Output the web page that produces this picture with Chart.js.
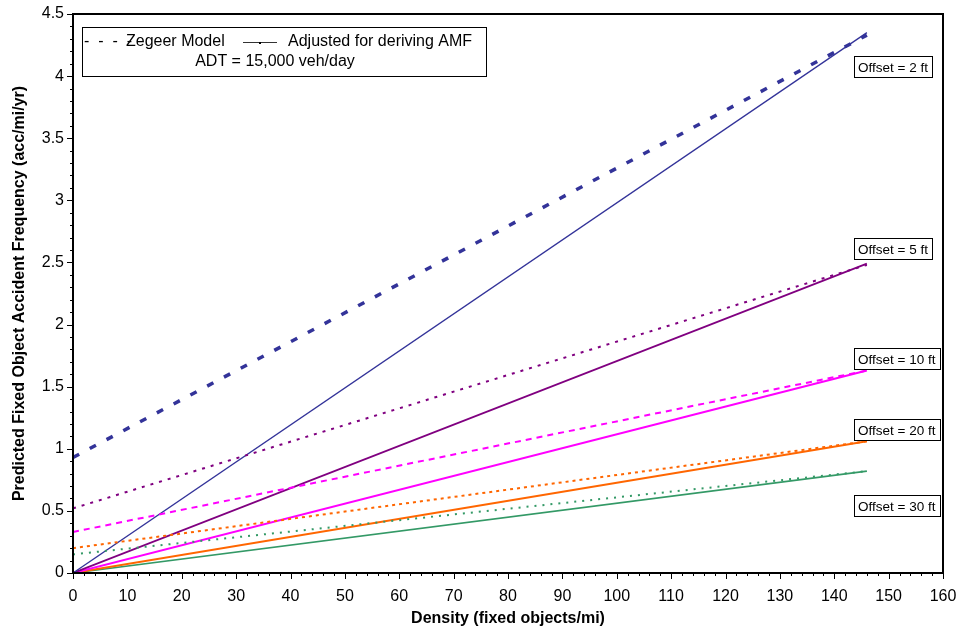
<!DOCTYPE html>
<html>
<head>
<meta charset="utf-8">
<script src="https://cdn.jsdelivr.net/npm/chart.js@4"></script>
<style>
  html, body { margin: 0; padding: 0; background: #fff; }
  #wrap { width: 961px; height: 633px; }
</style>
</head>
<body>
<div id="wrap"><canvas id="chart" width="961" height="633"></canvas></div>
<script>
// Data (density in fixed objects/mi)
const densityRange = [0, 146];
const offsetLabels = ['Offset = 2 ft', 'Offset = 5 ft', 'Offset = 10 ft', 'Offset = 20 ft', 'Offset = 30 ft'];
const zegeerStart = [0.93, 0.52, 0.33, 0.20, 0.15];
const zegeerEnd = [4.33, 2.48, 1.63, 1.06, 0.82];
const adjustedStart = [0, 0, 0, 0, 0];
const adjustedEnd = [4.35, 2.49, 1.63, 1.06, 0.82];
const xTickRange = [0, 160, 10];
const yTickRange = [0, 4.5, 0.5];

// Styles
const seriesColors = ['#333399', '#800080', '#FF00FF', '#FF6600', '#339966'];
const dashPatterns = [[7, 12], [3, 6], [6, 5], [3, 4], [2, 6]];
const dashWidths = [3.5, 2, 2, 2, 2];
const solidWidths = [1.3, 1.8, 2, 2, 1.6];
// y value (data units) where each offset label box is centered
const labelAnchorY = [4.07, 2.61, 1.72, 1.15, 0.54];
const labelAnchorX = 143.6;

const FONT = 'Arial, "Liberation Sans", sans-serif';

function buildDatasets() {
    const sets = [];
    offsetLabels.forEach((name, i) => {
        sets.push({
            label: name + ' (Zegeer)',
            data: [{ x: densityRange[0], y: zegeerStart[i] }, { x: densityRange[1], y: zegeerEnd[i] }],
            borderColor: seriesColors[i],
            borderWidth: dashWidths[i],
            borderDash: dashPatterns[i],
            pointRadius: 0,
            fill: false
        });
    });
    offsetLabels.forEach((name, i) => {
        sets.push({
            label: name + ' (Adjusted)',
            data: [{ x: densityRange[0], y: adjustedStart[i] }, { x: densityRange[1], y: adjustedEnd[i] }],
            borderColor: seriesColors[i],
            borderWidth: solidWidths[i],
            pointRadius: 0,
            fill: false
        });
    });
    return sets;
}

// Draws the box frame, minor/major ticks, axis titles, legend and labels
const decorPlugin = {
    id: 'decor',
    afterDraw(chart) {
        const ctx = chart.ctx;
        const a = chart.chartArea;
        const xs = chart.scales.x;
        const ys = chart.scales.y;
        ctx.save();

        // frame
        ctx.strokeStyle = '#000';
        ctx.lineWidth = 2;
        ctx.strokeRect(a.left, a.top, a.right - a.left, a.bottom - a.top);

        // x ticks: every 2, major every 10
        ctx.lineWidth = 1;
        for (let i = 0; i <= 80; i++) {
            const px = Math.round(xs.getPixelForValue(i * 2)) + 0.5;
            const len = i % 5 === 0 ? 6 : 3;
            ctx.beginPath();
            ctx.moveTo(px, a.bottom);
            ctx.lineTo(px, a.bottom + len);
            ctx.stroke();
        }
        // y ticks: every 0.1, major every 0.5
        for (let i = 0; i <= 45; i++) {
            const py = Math.round(ys.getPixelForValue(i / 10)) + 0.5;
            const len = i % 5 === 0 ? 6 : 3;
            ctx.beginPath();
            ctx.moveTo(a.left, py);
            ctx.lineTo(a.left - len, py);
            ctx.stroke();
        }

        // axis titles
        ctx.fillStyle = '#000';
        ctx.font = 'bold 16px ' + FONT;
        ctx.textAlign = 'center';
        ctx.textBaseline = 'middle';
        ctx.fillText('Density (fixed objects/mi)', (a.left + a.right) / 2, 619);
        ctx.save();
        ctx.translate(20, (a.top + a.bottom) / 2);
        ctx.rotate(-Math.PI / 2);
        ctx.fillText('Predicted Fixed Object Accident Frequency (acc/mi/yr)', 0, 0);
        ctx.restore();

        // legend box
        ctx.fillStyle = '#fff';
        ctx.fillRect(82, 27, 404, 49);
        ctx.strokeStyle = '#000';
        ctx.lineWidth = 1;
        ctx.strokeRect(82.5, 27.5, 404, 49);
        ctx.fillStyle = '#000';
        ctx.font = '16px ' + FONT;
        ctx.textAlign = 'left';
        ctx.fillText('-  -  -  -', 84, 42);
        ctx.fillText('Zegeer Model', 126, 42);
        ctx.strokeStyle = '#333';
        ctx.beginPath();
        ctx.moveTo(243, 42.5);
        ctx.lineTo(277, 42.5);
        ctx.stroke();
        ctx.fillRect(259, 42, 2, 2);
        ctx.fillText('Adjusted for deriving AMF', 288, 42);
        ctx.textAlign = 'center';
        ctx.fillText('ADT = 15,000 veh/day', 275, 62);

        // offset labels
        ctx.font = '13.5px ' + FONT;
        ctx.textAlign = 'left';
        offsetLabels.forEach((t, i) => {
            const x = Math.round(xs.getPixelForValue(labelAnchorX));
            const y = Math.round(ys.getPixelForValue(labelAnchorY[i]));
            const w = Math.ceil(ctx.measureText(t).width) + 8;
            ctx.fillStyle = '#fff';
            ctx.fillRect(x, y - 11, w, 22);
            ctx.strokeStyle = '#000';
            ctx.strokeRect(x + 0.5, y - 10.5, w, 21);
            ctx.fillStyle = '#000';
            ctx.fillText(t, x + 4, y + 1);
        });

        ctx.restore();
    }
};

const ctx = document.getElementById('chart').getContext('2d');
new Chart(ctx, {
    type: 'line',
    data: { datasets: buildDatasets() },
    options: {
        responsive: false,
        animation: false,
        layout: { padding: { left: 0, top: 14, right: 18, bottom: 0 } },
        plugins: {
            legend: { display: false },
            tooltip: { enabled: false }
        },
        scales: {
            x: {
                type: 'linear',
                min: xTickRange[0],
                max: xTickRange[1],
                ticks: { stepSize: xTickRange[2], color: '#000', font: { size: 16, family: FONT }, padding: 14, maxRotation: 0 },
                grid: { drawOnChartArea: false, drawTicks: false },
                border: { display: true, color: '#000', width: 2 },
                afterFit: (s) => { s.height = 60; s.paddingLeft = 0; s.paddingRight = 0; }
            },
            y: {
                type: 'linear',
                min: yTickRange[0],
                max: yTickRange[1],
                ticks: { stepSize: yTickRange[2], color: '#000', font: { size: 16, family: FONT }, padding: 9, callback: (v) => String(v) },
                grid: { drawOnChartArea: false, drawTicks: false },
                border: { display: true, color: '#000', width: 2 },
                afterFit: (s) => { s.width = 73; s.paddingTop = 0; s.paddingBottom = 0; }
            }
        }
    },
    plugins: [decorPlugin]
});
</script>
</body>
</html>
